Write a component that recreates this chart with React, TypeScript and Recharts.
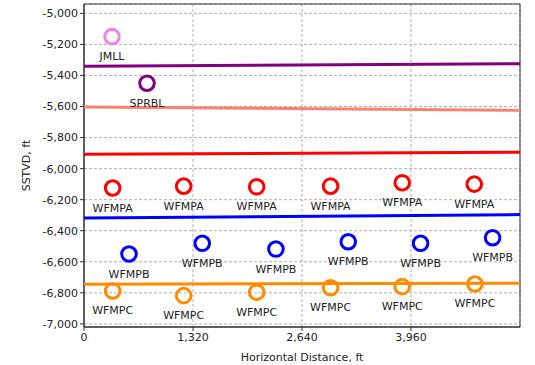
import React from "react";
import {
  ComposedChart,
  Scatter,
  XAxis,
  YAxis,
  CartesianGrid,
  ReferenceArea,
} from "recharts";

// horizontal distance (ft) / depth (ft) of each well pick
const jmllX = [339];
const jmllY = [-5150];
const sprblX = [763];
const sprblY = [-5450];
const wfmpaX = [347, 1207, 2091, 2986, 3854, 4726];
const wfmpaY = [-6125, -6113, -6117, -6113, -6091, -6100];
const wfmpbX = [545, 1432, 2324, 3200, 4076, 4948];
const wfmpbY = [-6550, -6481, -6518, -6471, -6481, -6445];
const wfmpcX = [347, 1207, 2091, 2986, 3854, 4734];
const wfmpcY = [-6788, -6818, -6796, -6767, -6760, -6743];

// surface lines, depth at left and right end
const lineX = [0, 5280];
const purpleLine = [-5341, -5324];
const salmonLine = [-5604, -5624];
const redLine = [-5907, -5895];
const blueLine = [-6318, -6296];
const orangeLine = [-6745, -6738];

const xTicks = [0, 1320, 2640, 3960];
const yTicks = [-7000, -6800, -6600, -6400, -6200, -6000, -5800, -5600, -5400, -5200, -5000];

const FONT = "DejaVu Sans, sans-serif";

const pts = (xs: number[], ys: number[], name: string) =>
  xs.map((x, i) => ({ x, y: ys[i], name }));
const line = (ys: number[]) => lineX.map((x, i) => ({ x, y: ys[i] }));

const marker = (color: string) => (props: any) => {
  const { cx, cy, payload } = props;
  return (
    <g>
      <circle cx={cx} cy={cy} r={7.3} fill="none" stroke={color} strokeWidth={3} />
      <text
        x={cx}
        y={cy + 20}
        textAnchor="middle"
        dominantBaseline="central"
        fontFamily={FONT}
        fontSize={11}
        fill="#222"
      >
        {payload.name}
      </text>
    </g>
  );
};

const fmt = (v: number) => v.toLocaleString("en-US");

export default function App() {
  const tickStyle = { fontFamily: FONT, fontSize: 11, fill: "#222" };
  return (
    <div style={{ position: "absolute", left: 0, top: 0 }}>
      <ComposedChart width={535} height={365} margin={{ top: 4, right: 15, bottom: 0, left: 0 }}>
        <CartesianGrid stroke="#b0b0b0" strokeDasharray="3 2" />
        <XAxis
          type="number"
          dataKey="x"
          domain={[0, 5280]}
          ticks={xTicks}
          tickFormatter={fmt}
          allowDataOverflow
          height={38}
          tick={tickStyle}
          tickSize={4}
          stroke="#333"
          label={{
            value: "Horizontal Distance, ft",
            position: "insideBottom",
            offset: 4,
            style: { fontFamily: FONT, fontSize: 11, fill: "#222" },
          }}
        />
        <YAxis
          type="number"
          dataKey="y"
          domain={[-7020, -4940]}
          ticks={yTicks}
          tickFormatter={fmt}
          allowDataOverflow
          width={84}
          tick={tickStyle}
          tickSize={4}
          stroke="#333"
          label={{
            value: "SSTVD, ft",
            angle: -90,
            position: "insideLeft",
            offset: 26,
            style: { fontFamily: FONT, fontSize: 11, fill: "#222", textAnchor: "middle" },
          }}
        />
        <ReferenceArea x1={0} x2={5280} y1={-7020} y2={-4940} fill="none" stroke="#333" strokeWidth={1} />
        <Scatter data={line(purpleLine)} line={{ stroke: "#800080", strokeWidth: 3 }} shape={() => null} isAnimationActive={false} />
        <Scatter data={line(salmonLine)} line={{ stroke: "#fa8072", strokeWidth: 3 }} shape={() => null} isAnimationActive={false} />
        <Scatter data={line(redLine)} line={{ stroke: "#ff0000", strokeWidth: 3 }} shape={() => null} isAnimationActive={false} />
        <Scatter data={line(blueLine)} line={{ stroke: "#0000ff", strokeWidth: 3 }} shape={() => null} isAnimationActive={false} />
        <Scatter data={line(orangeLine)} line={{ stroke: "#ff8c00", strokeWidth: 3 }} shape={() => null} isAnimationActive={false} />
        <Scatter data={pts(jmllX, jmllY, "JMLL")} shape={marker("#ee82ee")} isAnimationActive={false} />
        <Scatter data={pts(sprblX, sprblY, "SPRBL")} shape={marker("#800080")} isAnimationActive={false} />
        <Scatter data={pts(wfmpaX, wfmpaY, "WFMPA")} shape={marker("#ff0000")} isAnimationActive={false} />
        <Scatter data={pts(wfmpbX, wfmpbY, "WFMPB")} shape={marker("#0000ff")} isAnimationActive={false} />
        <Scatter data={pts(wfmpcX, wfmpcY, "WFMPC")} shape={marker("#ff8c00")} isAnimationActive={false} />
      </ComposedChart>
    </div>
  );
}
